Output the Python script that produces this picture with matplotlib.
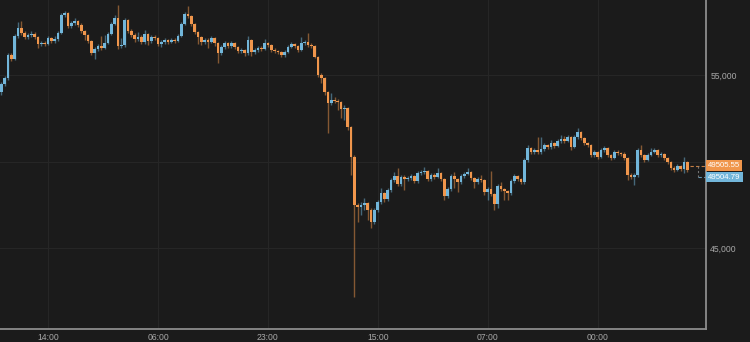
import matplotlib
matplotlib.use('Agg')
import matplotlib.pyplot as plt
import numpy as np
from matplotlib.transforms import offset_copy

# 30-minute candles, open of each = previous close
first_open = 54020
closes = [
    54480, 54830, 56160, 55920, 57250, 57720, 57430, 57200, 57310, 57370,
    57200, 56790, 56850, 56790, 57140, 56970, 57080, 57430, 58470, 58580,
    57830, 58010, 58120, 57890, 57540, 57310, 56970, 56270, 56500, 56680,
    56560, 56850, 57370, 57950, 58290, 56680, 56730, 58180, 57540, 57310,
    57080, 57200, 56910, 57370, 56970, 57200, 57140, 56790, 56910, 57020,
    56910, 57020, 56970, 57250, 57950, 58530, 58410, 57950, 57490, 57200,
    56910, 57020, 56910, 57140, 56850, 56270, 56620, 56850, 56680, 56850,
    56620, 56390, 56450, 56270, 57020, 56330, 56450, 56560, 56500, 56850,
    56730, 56450, 56390, 56330, 56160, 56330, 56620, 56790, 56680, 56450,
    56850, 56910, 56730, 56680, 56040, 55000, 54830, 54020, 53380, 53560,
    53500, 53440, 53040, 53090, 51990, 50260, 47490, 47370, 47490, 47600,
    47200, 46500, 47200, 47660, 48180, 47830, 48350, 48930, 49160, 48700,
    49100, 48990, 49050, 49160, 48870, 49340, 49390, 49450, 48990, 49220,
    49100, 49340, 48990, 48010, 48410, 49160, 48990, 48820, 49160, 49280,
    49390, 49050, 48820, 48990, 48930, 48240, 48410, 48120, 47540, 48580,
    48410, 48300, 48180, 48870, 49160, 48990, 48820, 50090, 50780, 50550,
    50670, 50550, 50720, 50950, 50840, 51070, 50900, 51190, 51300, 51190,
    51420, 50840, 51420, 51710, 51360, 51070, 50950, 50380, 50550, 50260,
    50670, 50780, 50380, 50200, 50550, 50490, 50430, 50200, 49220, 49100,
    49220, 50670, 50380, 50090, 50380, 50550, 50670, 50380, 50430, 50200,
    49970, 49620, 49510, 49740, 49570, 49970, 49510,
]
highs = [
    54600, 54940, 56270, 56270, 57370, 58060, 58120, 57540, 57430, 57540,
    57490, 57250, 56970, 56970, 57250, 57200, 57250, 57540, 58580, 58700,
    58640, 58120, 58290, 58180, 58010, 57600, 57370, 57020, 56620, 56790,
    57250, 57310, 57490, 58060, 58470, 59050, 57140, 58290, 58240, 57660,
    57430, 57490, 57310, 57600, 57430, 57310, 57310, 57200, 57020, 57140,
    57080, 57140, 57140, 57370, 58060, 58640, 58990, 58470, 58010, 57540,
    57250, 57140, 57140, 57250, 57200, 56910, 56730, 56970, 56910, 56970,
    56910, 56680, 56560, 56500, 57250, 57080, 56560, 56680, 56680, 57080,
    56910, 56790, 56560, 56450, 56390, 56450, 56730, 56910, 56850, 56730,
    57200, 57020, 57430, 56850, 56730, 56100, 55120, 54880, 54080, 53960,
    53730, 53610, 53500, 53270, 53150, 52050, 50380, 47600, 47660, 47890,
    47660, 47310, 47310, 47780, 48470, 48240, 48470, 49050, 49390, 49620,
    49220, 49220, 49160, 49280, 49220, 49450, 49510, 49680, 49510, 49340,
    49340, 49620, 49390, 49050, 48530, 49280, 49390, 49050, 49280, 49390,
    49620, 49450, 49100, 49100, 49220, 48990, 48530, 49450, 48180, 48700,
    48820, 48470, 48350, 48990, 49280, 49220, 49050, 50200, 50950, 50840,
    50780, 51420, 51420, 51070, 51010, 51240, 51130, 51300, 51530, 51470,
    51530, 51470, 51530, 51940, 51760, 51420, 51130, 51010, 50670, 50610,
    50780, 50900, 50840, 50430, 50670, 50670, 50550, 50550, 50260, 49340,
    49340, 50780, 50950, 50430, 50490, 50780, 50780, 50720, 50550, 50490,
    50260, 50030, 49740, 49860, 49800, 50260, 50030,
]
lows = [
    53840, 54360, 54710, 55810, 55870, 57140, 57310, 57080, 57080, 57200,
    57080, 56560, 56680, 56680, 56730, 56850, 56850, 56970, 57370, 58350,
    57720, 57720, 57890, 57770, 57430, 57020, 56850, 56160, 55920, 56390,
    56450, 56500, 56790, 57310, 57890, 56500, 56560, 56620, 57430, 57200,
    56910, 56970, 56790, 56790, 56730, 56850, 57020, 56680, 56620, 56790,
    56790, 56850, 56850, 56910, 57200, 57890, 58290, 57830, 57370, 56790,
    56730, 56790, 56560, 56850, 56680, 55690, 56160, 56500, 56560, 56560,
    56500, 56270, 56270, 56100, 56160, 56100, 56210, 56330, 56390, 56450,
    56620, 56330, 56270, 56210, 56040, 56040, 56270, 56560, 56560, 56330,
    56390, 56730, 56620, 56560, 55980, 54880, 54540, 53840, 51650, 53270,
    53380, 52980, 52520, 52400, 51820, 49220, 42170, 46500, 46910, 47200,
    46620, 46160, 46390, 47080, 47540, 47660, 47720, 48240, 48820, 48580,
    48580, 48350, 48870, 48930, 48760, 48760, 49220, 49280, 48870, 48870,
    48990, 49050, 48870, 47780, 47890, 48300, 48470, 48240, 48700, 49050,
    49220, 48930, 48470, 48700, 48820, 48060, 47780, 48010, 47200, 47310,
    48300, 47780, 47780, 48060, 48760, 48870, 48700, 48700, 49970, 50430,
    50430, 50430, 50430, 50610, 50720, 50720, 50780, 50840, 51070, 51070,
    51130, 50670, 50780, 51300, 51240, 50950, 50840, 50260, 50260, 50150,
    50200, 50550, 50260, 50090, 50150, 50380, 50320, 50090, 48930, 48990,
    48640, 49100, 50260, 49970, 50030, 50320, 50490, 50260, 50260, 50090,
    49860, 49510, 49390, 49450, 49450, 49340, 49390,
]

tick_pos = [14, 47, 80, 113, 146, 179]
tick_labels = ['14:00', '06:00', '23:00', '15:00', '07:00', '00:00']
grid_prices = [45000, 50000, 55000]
label_prices = [45000, 55000]  # 50,000 sits under the price boxes
ask_price, bid_price = 49505.55, 49504.79

BG = '#1b1b1b'
BLUE = '#72b6da'
ORANGE = '#f0964c'
GRID = '#262626'
TXT = '#a8a8a8'

plt.rcParams['font.family'] = ['Liberation Sans', 'DejaVu Sans']

c = np.array(closes, dtype=float)
o = np.r_[first_open, c[:-1]]
h = np.array(highs, dtype=float)
l = np.array(lows, dtype=float)
x = np.arange(len(c))
up = c >= o
colors = np.where(up, BLUE, ORANGE)

fig = plt.figure(figsize=(7.5, 3.42), dpi=100, facecolor=BG)
ax = fig.add_axes([0, 13 / 342, 706 / 750, 329 / 342], facecolor=BG)

# 网格
for v in grid_prices:
    ax.axhline(v, color=GRID, lw=0.8, zorder=0)
for p in tick_pos:
    ax.axvline(p, color=GRID, lw=0.8, zorder=0)

# 影线 + 实体
ax.vlines(x, l, h, colors=colors, lw=1.0, alpha=0.5, zorder=2)
body = np.maximum(np.abs(c - o), 25)
ax.bar(x, body, bottom=np.minimum(o, c), width=0.8, color=colors, lw=0, zorder=3)

ax.set_xlim(-0.45, 211.56)
ax.set_ylim(40320, 59335)

# 当前价格虚线
xr = ax.get_xlim()[1]
up_tr = offset_copy(ax.transData, fig=fig, y=3.0, units='points')
dn_tr = offset_copy(ax.transData, fig=fig, y=-5.0, units='points')
ax.plot([len(c) - 0.3, xr], [ask_price, ask_price], color=ORANGE, lw=0.8,
        ls=(0, (3, 2)), alpha=0.8, transform=up_tr, clip_on=False)
ax.plot([len(c) + 2.1, xr], [bid_price, bid_price], color=BLUE, lw=0.8,
        ls=(0, (3, 2)), alpha=0.8, transform=dn_tr, clip_on=False)
# 虚线框左边
inv = ax.transData.inverted()
y_top = inv.transform(up_tr.transform((0, ask_price)))[1]
y_bot = inv.transform(dn_tr.transform((0, bid_price)))[1]
ax.plot([len(c) + 2.1, len(c) + 2.1], [y_top, y_bot], color='#8a8a8a', lw=0.8,
        ls=(0, (2, 2)), alpha=0.8, clip_on=False)

ax.spines['top'].set_visible(False)
ax.spines['left'].set_visible(False)
for s in ['right', 'bottom']:
    ax.spines[s].set_color('#8c8c8c')
    ax.spines[s].set_linewidth(1.3)

ax.yaxis.tick_right()
ax.set_yticks(label_prices)
ax.set_yticklabels([f'{v:,}' for v in label_prices])
ax.set_xticks(tick_pos)
ax.set_xticklabels(tick_labels)
ax.tick_params(axis='both', length=0, colors=TXT, labelsize=6.2)
ax.tick_params(axis='y', pad=3)
ax.tick_params(axis='x', pad=3)

# 右侧价格标签
ax.annotate(f'{ask_price:.2f}', xy=(1, ask_price), xycoords=('axes fraction', 'data'),
            xytext=(1.5, 3.0), textcoords='offset points', ha='left', va='center',
            fontsize=5.6, color='white', annotation_clip=False, zorder=10,
            bbox=dict(boxstyle='square,pad=0.25', fc=ORANGE, ec='none'))
ax.annotate(f'{bid_price:.2f}', xy=(1, bid_price), xycoords=('axes fraction', 'data'),
            xytext=(1.5, -5.0), textcoords='offset points', ha='left', va='center',
            fontsize=5.6, color='white', annotation_clip=False, zorder=10,
            bbox=dict(boxstyle='square,pad=0.25', fc=BLUE, ec='none'))

fig.savefig('out.png', dpi=100, facecolor=BG)
